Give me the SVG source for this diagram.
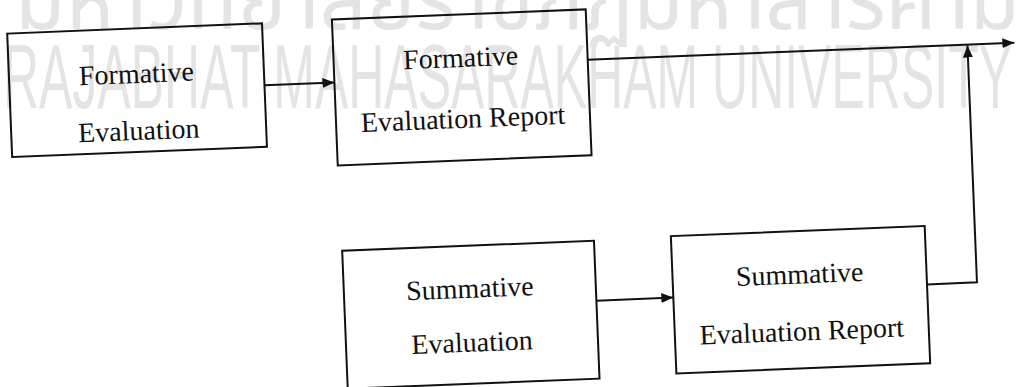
<svg xmlns="http://www.w3.org/2000/svg" width="1022" height="387" viewBox="0 0 1022 387">
<style>
.box{fill:none;stroke:#111;stroke-width:2}
.lbl{font-family:"Liberation Serif","Times New Roman",serif;font-size:28px;fill:#111;text-anchor:middle}
.wm{font-family:"Liberation Sans",Arial,sans-serif;fill:#e4e4e4}
.wmth{font-family:"Noto Sans Thai","Noto Sans","DejaVu Sans",sans-serif;fill:#e4e4e4}
.conn{fill:none;stroke:#111;stroke-width:2}
</style>
<defs>
<marker id="arr" viewBox="0 0 12 10" refX="12" refY="5" markerWidth="12" markerHeight="10" markerUnits="userSpaceOnUse" orient="auto">
<path d="M0,0 L12,5 L0,10 Z" fill="#111"/>
</marker>
</defs>
<rect width="1022" height="387" fill="#fff"/>
<g id="watermark">
<text class="wmth" x="15" y="29" font-size="88" textLength="1005" lengthAdjust="spacingAndGlyphs">มหาวิทยาลัยราชภัฏมหาสารคาม</text>
<text class="wm" x="3" y="108" font-size="91" textLength="1009" lengthAdjust="spacingAndGlyphs">RAJABHAT MAHASARAKHAM UNIVERSITY</text>
</g>
<g transform="rotate(-2.3 511 193)">
<g id="formative-evaluation">
<rect class="box" x="14" y="13.5" width="255" height="123.5"/>
<text class="lbl" x="141.5" y="68">Formative</text>
<text class="lbl" x="141.5" y="125">Evaluation</text>
</g>
<g id="formative-report">
<rect class="box" x="339" y="12.5" width="254" height="146"/>
<text class="lbl" x="466" y="65">Formative</text>
<text class="lbl" x="466" y="126">Evaluation Report</text>
</g>
<g id="summative-evaluation">
<rect class="box" x="340" y="244" width="252" height="138"/>
<text class="lbl" x="466" y="296">Summative</text>
<text class="lbl" x="466" y="350">Evaluation</text>
</g>
<g id="summative-report">
<rect class="box" x="669" y="242.5" width="254" height="137.5"/>
<text class="lbl" x="796" y="295">Summative</text>
<text class="lbl" x="796" y="352">Evaluation Report</text>
</g>
<g id="connectors">
<path class="conn" d="M269,75.5 L339,75.5" marker-end="url(#arr)"/>
<path class="conn" d="M593,63 L1020,63" marker-end="url(#arr)"/>
<path class="conn" d="M592,304 L669,304" marker-end="url(#arr)"/>
<path class="conn" d="M923,301 L973,301 L973,64" marker-end="url(#arr)"/>
</g>
</g>
</svg>
